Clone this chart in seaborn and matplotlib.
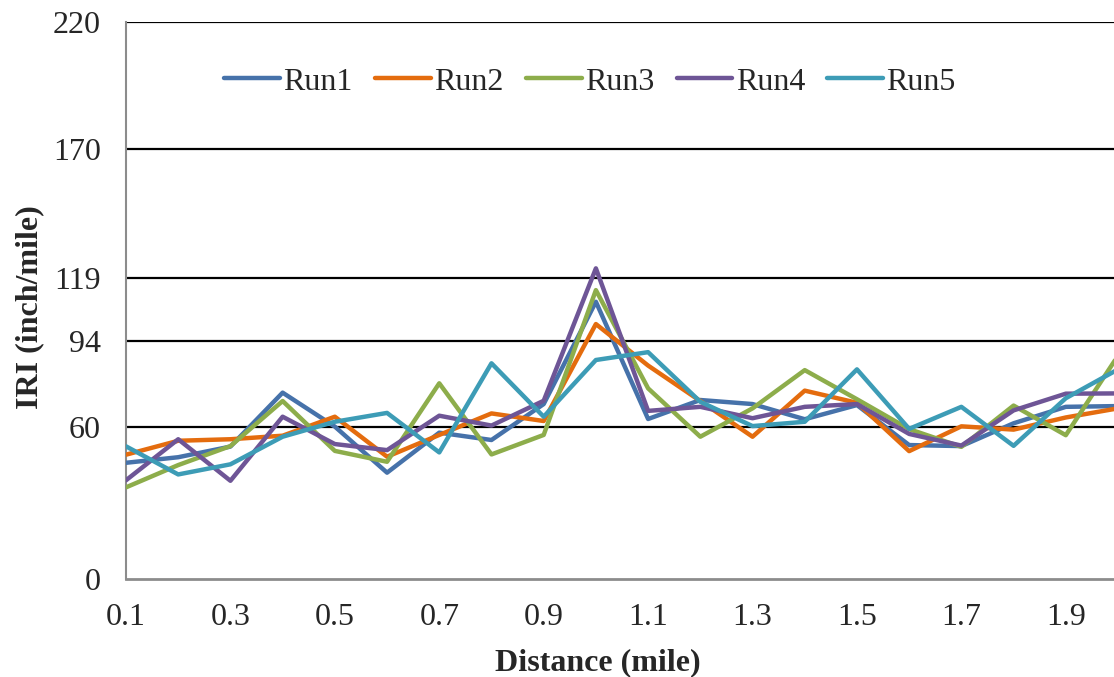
import numpy as np
import pandas as pd
import matplotlib
matplotlib.use("Agg")
import matplotlib.pyplot as plt
import seaborn as sns

# Distance along the section (mile)
distance = [0.1, 0.2, 0.3, 0.4, 0.5, 0.6, 0.7, 0.8, 0.9, 1.0,
            1.1, 1.2, 1.3, 1.4, 1.5, 1.6, 1.7, 1.8, 1.9, 2.0]

# IRI (inch/mile) for each repeated run
run1 = [45.9, 48.1, 52.3, 73.6, 60.2, 42.0, 57.8, 54.9, 69.1, 109.5,
        63.2, 70.7, 69.1, 63.1, 68.7, 52.9, 52.5, 61.5, 68.0, 68.3]
run2 = [49.1, 54.6, 55.2, 56.6, 64.1, 48.3, 56.9, 65.4, 62.4, 100.7,
        84.3, 70.3, 56.2, 74.4, 69.6, 50.5, 60.3, 59.0, 63.8, 67.4]
run3 = [36.2, 45.0, 52.5, 70.3, 50.6, 46.3, 77.3, 49.2, 56.9, 114.1,
        75.3, 56.2, 67.4, 82.5, 71.0, 59.2, 52.2, 68.5, 56.8, 88.2]
run4 = [39.0, 55.2, 38.8, 64.1, 53.3, 50.9, 64.5, 60.6, 70.4, 122.7,
        66.4, 68.0, 63.5, 68.0, 69.1, 57.3, 52.7, 66.6, 73.2, 73.3]
run5 = [52.4, 41.3, 45.3, 56.2, 62.1, 65.6, 50.0, 85.2, 64.1, 86.5,
        89.6, 70.0, 60.4, 62.1, 82.8, 59.3, 68.0, 52.6, 71.4, 82.8]

run_names = ["Run1", "Run2", "Run3", "Run4", "Run5"]
run_colors = ["#4672AA", "#E46C0E", "#8DAD4B", "#6E5596", "#3D9CB6"]

y_ticks = [0, 60, 94, 119, 170, 220]
x_ticks = [0.1, 0.2, 0.3, 0.4, 0.5, 0.6, 0.7, 0.8, 0.9, 1.0,
           1.1, 1.2, 1.3, 1.4, 1.5, 1.6, 1.7, 1.8, 1.9]
x_labels = ["0.1", "", "0.3", "", "0.5", "", "0.7", "", "0.9", "",
            "1.1", "", "1.3", "", "1.5", "", "1.7", "", "1.9"]

frames = []
for name, vals in zip(run_names, [run1, run2, run3, run4, run5]):
    frames.append(pd.DataFrame({"Distance": distance, "IRI": vals, "Run": name}))
df = pd.concat(frames, ignore_index=True)

sns.set_theme(style="white")
plt.rcParams["font.family"] = ["Liberation Serif", "DejaVu Serif"]

FS = 23

fig = plt.figure(figsize=(11.14, 6.77), dpi=100)
ax = fig.add_axes([126 / 1114, (677 - 579) / 677, (1118 - 126) / 1114, 557 / 677])

# Horizontal reference lines at the labelled IRI levels
for yv in y_ticks[1:]:
    ax.axhline(yv, color="black", lw=1.6, zorder=1)

sns.lineplot(data=df, x="Distance", y="IRI", hue="Run", palette=run_colors,
             lw=3.2, ax=ax, legend=False, zorder=3)

ax.set_xlim(0.1, 2.0)
ax.set_ylim(0, 220)
ax.set_yticks(y_ticks)
ax.set_yticklabels([str(v) for v in y_ticks], fontsize=FS)
ax.set_xticks(x_ticks)
ax.set_xticklabels(x_labels, fontsize=FS)

ax.tick_params(axis="x", direction="out", length=8, width=1.5, color="#8c8c8c", pad=9)
ax.tick_params(axis="y", direction="out", length=4, width=1.2, color="#8c8c8c", pad=14)

for side in ["top", "right"]:
    ax.spines[side].set_visible(False)
ax.spines["left"].set_color("#8c8c8c")
ax.spines["left"].set_linewidth(1.5)
ax.spines["bottom"].set_color("#8c8c8c")
ax.spines["bottom"].set_linewidth(2.0)
ax.spines["bottom"].set_zorder(2)

ax.set_xlabel("Distance (mile)", fontsize=FS, fontweight="bold", labelpad=12)
ax.xaxis.label.set_x((598 - 126) / (1118 - 126))
ax.set_ylabel("IRI (inch/mile)", fontsize=FS, fontweight="bold", labelpad=6)
ax.yaxis.label.set_y((579 - 307) / 557)

# Legend in one row, centred near the top of the plot area
handles = [plt.Line2D([0], [0], color=c, lw=3.2) for c in run_colors]
ax.legend(handles, run_names, loc="center",
          bbox_to_anchor=(590 / 1114, 1 - 82 / 677), bbox_transform=fig.transFigure,
          ncol=5, frameon=False, fontsize=FS, handlelength=1.75,
          handletextpad=0.1, columnspacing=0.7)

fig.savefig("out.png", dpi=100)
